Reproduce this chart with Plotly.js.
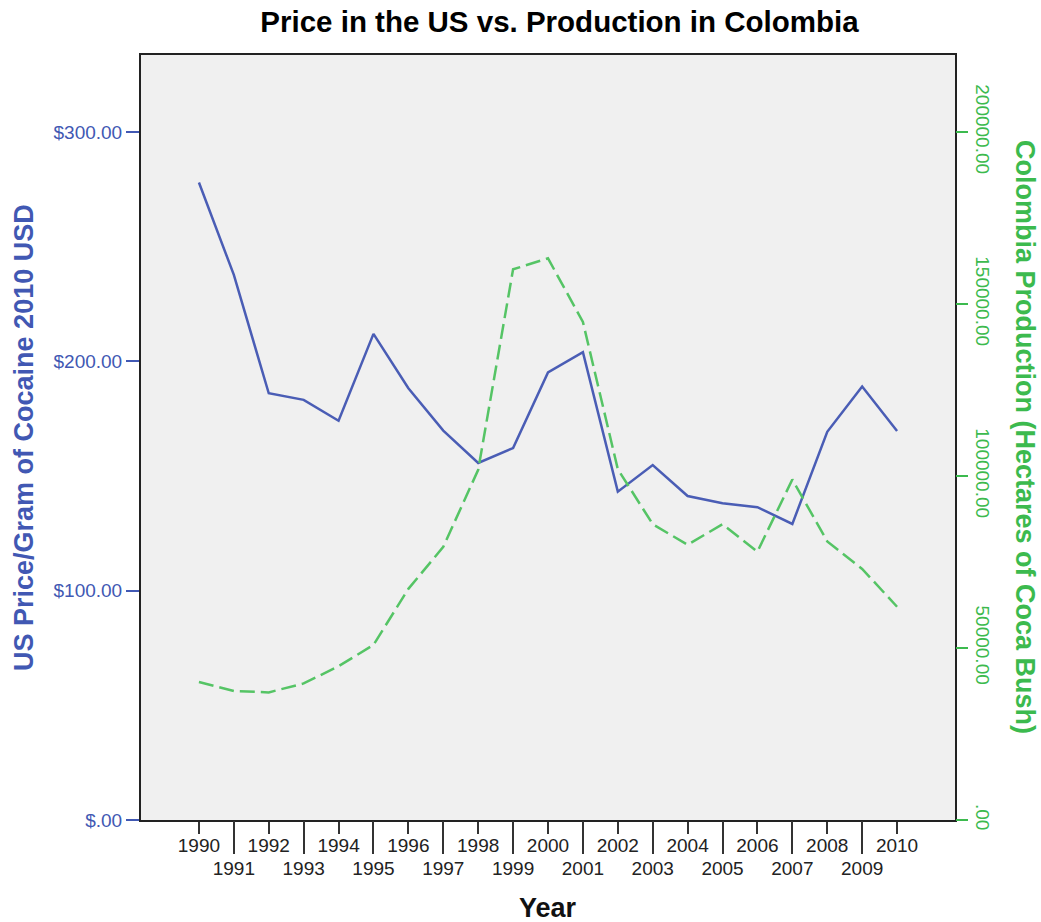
<!DOCTYPE html>
<html>
<head>
<meta charset="utf-8">
<script src="https://cdn.plot.ly/plotly-3.0.1.min.js"></script>
<style>
html,body{margin:0;padding:0;background:#fff;}
#chart{width:1041px;height:922px;}
</style>
</head>
<body>
<div id="chart"></div>
<script>
// Data
var years = [1990,1991,1992,1993,1994,1995,1996,1997,1998,1999,2000,2001,2002,2003,2004,2005,2006,2007,2008,2009,2010];
var usPrice = [278,237.7,186.1,183.2,174.1,212,188.3,169.8,155.7,162.2,195.2,204,143.2,154.8,141.3,138.1,136.4,129.1,169.3,189,169.6];
var colombiaHectares = [40100,37500,37100,39700,44700,50900,67200,79400,101800,160100,163300,144800,102000,86000,80000,86000,78000,99000,81000,73000,62000];

var evenYears = years.filter(function(y){return y % 2 === 0;});
var oddYears = years.filter(function(y){return y % 2 === 1;});
var priceTickVals = [0,100,200,300];
var priceTickText = ["$.00","$100.00","$200.00","$300.00"];
var haTickVals = [0,50000,100000,150000,200000];
var haTickText = [".00","50000.00","100000.00","150000.00","200000.00"];

var BLUE = "#4158b3";
var GREEN = "#3cba4e";
var FONT = "Liberation Sans, Arial, sans-serif";

var traces = [
  {
    x: years, y: usPrice, type: "scatter", mode: "lines",
    line: {color: "#4a5db5", width: 2.5},
    xaxis: "x", yaxis: "y", showlegend: false, hoverinfo: "x+y"
  },
  {
    x: years, y: colombiaHectares, type: "scatter", mode: "lines",
    line: {color: "#55c465", width: 2.5, dash: "15px,6px"},
    xaxis: "x", yaxis: "y2", showlegend: false, hoverinfo: "x+y"
  },
  {
    // invisible helper so the odd-year axis is drawn
    x: [years[0]], y: [null], type: "scatter", mode: "lines",
    xaxis: "x2", yaxis: "y", showlegend: false, hoverinfo: "skip"
  }
];

var xr = [1988.34, 2011.66];

var layout = {
  width: 1041, height: 922,
  margin: {l: 141, r: 86, t: 55, b: 102},
  paper_bgcolor: "#ffffff",
  plot_bgcolor: "#f0f0f0",
  font: {family: FONT, size: 19, color: "#222"},
  title: {
    text: "Price in the US vs. Production in Colombia",
    font: {family: FONT, size: 29.5, color: "#000", weight: "bold"},
    x: 559.5/1041, xanchor: "center", xref: "container",
    y: 1 - 22/922, yanchor: "middle", yref: "container"
  },
  xaxis: {
    range: xr, tickmode: "array", tickvals: evenYears, ticktext: evenYears.map(String),
    ticks: "outside", ticklen: 12, tickwidth: 2, tickcolor: "#333",
    ticklabelstandoff: -5,
    tickfont: {family: FONT, size: 19, color: "#222"},
    showgrid: false, zeroline: false,
    showline: true, mirror: true, linecolor: "#222", linewidth: 2,
    fixedrange: true
  },
  xaxis2: {
    overlaying: "x", anchor: "y", side: "bottom",
    range: xr, tickmode: "array", tickvals: oddYears, ticktext: oddYears.map(String),
    ticks: "outside", ticklen: 33, tickwidth: 2, tickcolor: "#333",
    ticklabelstandoff: -2,
    tickfont: {family: FONT, size: 19, color: "#222"},
    showgrid: false, zeroline: false, showline: false
  },
  yaxis: {
    range: [0, 333.6], tickmode: "array", tickvals: priceTickVals, ticktext: priceTickText,
    ticks: "outside", ticklen: 13, tickwidth: 2, tickcolor: BLUE,
    tickfont: {family: FONT, size: 19, color: BLUE},
    showgrid: false, zeroline: false,
    showline: true, mirror: true, linecolor: "#222", linewidth: 2
  },
  yaxis2: {
    overlaying: "y", side: "right", anchor: "x",
    range: [0, 222400], tickmode: "array", tickvals: haTickVals, ticktext: haTickText,
    ticks: "outside", ticklen: 12, tickwidth: 2, tickcolor: GREEN,
    tickangle: 90,
    tickfont: {family: FONT, size: 19, color: GREEN},
    showgrid: false, zeroline: false, showline: false
  },
  annotations: [
    {
      text: "US Price/Gram of Cocaine 2010 USD", textangle: -90,
      xref: "paper", yref: "paper",
      x: (24 - 141)/814, y: (820 - 438)/765,
      xanchor: "center", yanchor: "middle", showarrow: false,
      font: {family: FONT, size: 27, color: BLUE, weight: "bold"}
    },
    {
      text: "Colombia Production (Hectares of Coca Bush)", textangle: 90,
      xref: "paper", yref: "paper",
      x: (1025 - 141)/814, y: (820 - 437)/765,
      xanchor: "center", yanchor: "middle", showarrow: false,
      font: {family: FONT, size: 27, color: GREEN, weight: "bold"}
    },
    {
      text: "Year",
      xref: "paper", yref: "paper",
      x: (548 - 141)/814, y: (820 - 908)/765,
      xanchor: "center", yanchor: "middle", showarrow: false,
      font: {family: FONT, size: 27, color: "#111", weight: "bold"}
    }
  ]
};

Plotly.newPlot("chart", traces, layout, {displayModeBar: false, staticPlot: true});
</script>
</body>
</html>
